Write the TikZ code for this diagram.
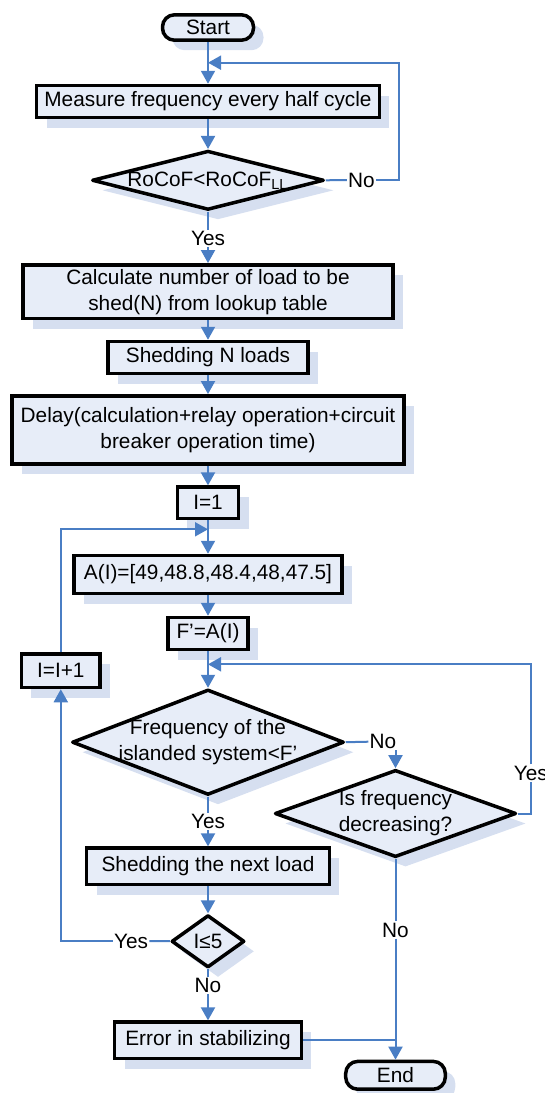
\documentclass[tikz,border=0pt]{standalone}
\usepackage{fontspec}
\setmainfont{Liberation Sans}
\usetikzlibrary{shapes.geometric,shadows,arrows.meta}
\definecolor{boxfill}{RGB}{231,237,248}
\definecolor{boxshade}{RGB}{214,223,240}
\definecolor{linkblue}{RGB}{74,126,196}

\begin{document}
\begin{tikzpicture}[x=0.5pt,y=-0.5pt,
    font=\fontsize{10.4}{13}\selectfont,
    box/.style={draw=black, line width=1.75pt, fill=boxfill, align=center, inner sep=1pt,
        drop shadow={shadow xshift=5pt, shadow yshift=-5pt, fill=boxshade, opacity=1}},
    term/.style={box, rounded corners=6pt},
    test/.style={box, diamond, inner sep=-30pt, line join=round},
    lbl/.style={inner sep=0.5pt},
    link/.style={draw=linkblue, line width=1pt},
    arr/.style={link, -{Triangle[length=6.5pt,width=7pt]}}]

        \useasboundingbox (0,0) rectangle (545,1093);

        \node[term, minimum width=45.5pt, minimum height=12.7pt] (start) at (208,27.5) {Start};
        \node[box, minimum width=171.4pt, minimum height=16pt] (meas) at (208,101.5) {Measure frequency every half cycle};
        \node[test, minimum width=116pt, minimum height=29.6pt] (d1) at (208,180.3) {RoCoF<RoCoF\textsubscript{LL}};
        \node[box, minimum width=185pt, minimum height=26.9pt] (calc) at (208,291.7) {Calculate number of load to be\\shed(N) from lookup table};
        \node[box, minimum width=100.2pt, minimum height=16pt] (shedN) at (208,357.5) {Shedding N loads};
        \node[box, minimum width=195.8pt, minimum height=34.2pt] (delay) at (208,430) {Delay(calculation+relay operation+circuit\\breaker operation time)};
        \node[box, minimum width=30.7pt, minimum height=15.7pt] (i1) at (208,502.8) {I=1};
        \node[box, minimum width=134pt, minimum height=19pt] (aI) at (208,574.5) {A(I)=[49,48.8,48.4,48,47.5]};
        \node[box, minimum width=40.2pt, minimum height=16pt] (fa) at (208,633.5) {F’=A(I)};
        \node[box, minimum width=39.4pt, minimum height=16.7pt] (inc) at (60.8,670.8) {I=I+1};
        \node[test, minimum width=136pt, minimum height=52.7pt] (d2) at (208,742.2) {Frequency of the\\islanded system<F’};
        \node[test, minimum width=120.7pt, minimum height=43.6pt] (d3) at (395.5,813.5) {Is frequency\\decreasing?};
        \node[box, minimum width=121.4pt, minimum height=18.2pt] (snl) at (208,866.3) {Shedding the next load};
        \node[test, minimum width=36.5pt, minimum height=26.2pt] (d4) at (208,941.3) {I≤5};
        \node[box, minimum width=93.4pt, minimum height=18.2pt] (err) at (208,1040.3) {Error in stabilizing};
        \node[term, minimum width=49.8pt, minimum height=13.9pt] (end) at (395.5,1075.3) {End};

        % branch labels
        \node[lbl] (no1) at (361.5,180) {No};
        \node[lbl] (yes1) at (208,238.3) {Yes};
        \node[lbl] (no2) at (383,741.7) {No};
        \node[lbl] (yes3) at (530.8,773) {Yes};
        \node[lbl] (yes2) at (208,821.7) {Yes};
        \node[lbl] (yes4) at (131,941) {Yes};
        \node[lbl] (no4) at (208,985.7) {No};
        \node[lbl] (no3) at (395.5,930) {No};

        \coordinate (back1) at (399,62.7);
        \coordinate (back2) at (208,529.3);
        \coordinate (back3) at (530.8,664.3);

        \draw[arr] (start) -- (meas);
        \draw[arr] (meas) -- (d1);
        \draw[link] (d1.east) -- (no1.west);
        \draw[arr] (no1.east) -| (back1) -- (meas.north |- back1);
        \draw[link] (d1) -- (yes1);
        \draw[arr] (yes1) -- (calc);
        \draw[arr] (calc) -- (shedN);
        \draw[arr] (shedN) -- (delay);
        \draw[arr] (delay) -- (i1);
        \draw[arr] (i1) -- (aI);
        \draw[arr] (inc) |- (back2);
        \draw[arr] (aI) -- (fa);
        \draw[arr] (fa) -- (d2);

        \draw[link] (d2.east) -- (no2.west);
        \draw[arr] (no2.south -| d3.north) -- (d3.north);
        \draw[link] (d3.east) -| (yes3.south);
        \draw[arr] (yes3.north) -- (back3) -- (fa.south |- back3);

        \draw[link] (d2) -- (yes2);
        \draw[arr] (yes2) -- (snl);
        \draw[arr] (snl) -- (d4);
        \draw[link] (d4) -- (yes4);
        \draw[arr] (yes4) -| (inc);
        \draw[link] (d4) -- (no4);
        \draw[arr] (no4) -- (err);

        \draw[link] (err) -- (err -| d3.south);
        \draw[link] (d3) -- (no3);
        \draw[arr] (no3) -- (end);

\end{tikzpicture}
\end{document}
